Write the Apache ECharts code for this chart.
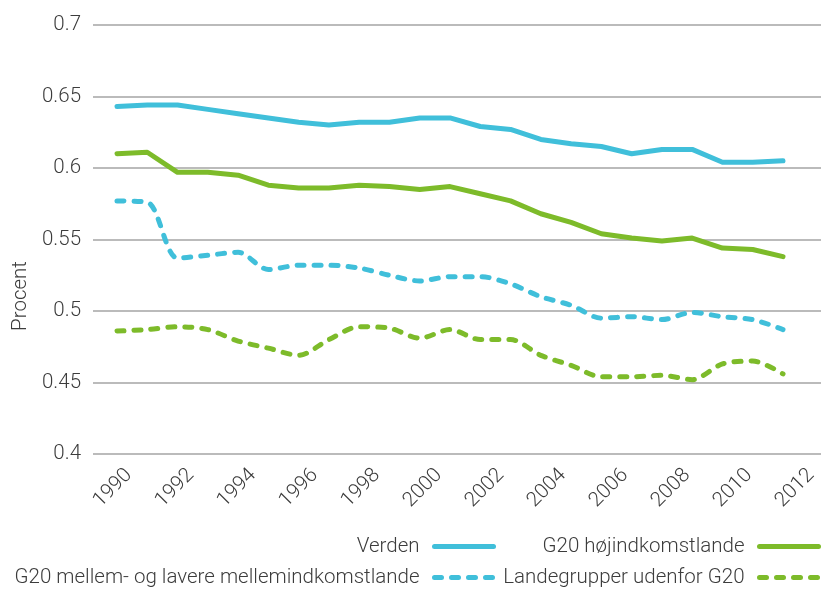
<!DOCTYPE html>
<html>
<head>
<meta charset="utf-8">
<script src="https://cdn.jsdelivr.net/npm/echarts@6/dist/echarts.min.js"></script>
<style>
  html, body { margin: 0; padding: 0; background: #fff; }
  #chart { width: 821px; height: 590px; }
</style>
</head>
<body>
<div id="chart"></div>
<script>
// data
const years = [1990, 1991, 1992, 1993, 1994, 1995, 1996, 1997, 1998, 1999, 2000, 2001,
  2002, 2003, 2004, 2005, 2006, 2007, 2008, 2009, 2010, 2011, 2012];
const tickYears = [1990, 1992, 1994, 1996, 1998, 2000, 2002, 2004, 2006, 2008, 2010, 2012];

const verden = [0.643, 0.644, 0.644, 0.641, 0.638, 0.635, 0.632, 0.630, 0.632, 0.632, 0.635, 0.635,
  0.629, 0.627, 0.620, 0.617, 0.615, 0.610, 0.613, 0.613, 0.604, 0.604, 0.605];
const hojindkomst = [0.610, 0.611, 0.597, 0.597, 0.595, 0.588, 0.586, 0.586, 0.588, 0.587, 0.585, 0.587,
  0.582, 0.577, 0.568, 0.562, 0.554, 0.551, 0.549, 0.551, 0.544, 0.543, 0.538];
const mellemindkomst = [0.577, 0.576, 0.537, 0.539, 0.541, 0.529, 0.532, 0.532, 0.530, 0.525, 0.521, 0.524,
  0.524, 0.519, 0.510, 0.504, 0.495, 0.496, 0.494, 0.499, 0.496, 0.494, 0.487];
const udenforG20 = [0.486, 0.487, 0.489, 0.487, 0.479, 0.474, 0.469, 0.480, 0.489, 0.488, 0.481, 0.487,
  0.480, 0.480, 0.469, 0.462, 0.454, 0.454, 0.455, 0.452, 0.463, 0.465, 0.456];

const BLUE = '#40BFDA';
const GREEN = '#7DBB2A';
const FONT = 'Roboto';
const TEXT = '#3c3c3c';
const FS = 20.5;

const pairs = (vals) => vals.map((v, i) => [years[i], v]);

const chart = echarts.init(document.getElementById('chart'), null, { renderer: 'canvas' });

const lineSeries = (name, vals, color, dashed) => ({
  name: name,
  type: 'line',
  xAxisIndex: 0,
  data: pairs(vals),
  symbol: 'none',
  smooth: dashed ? 0.3 : false,
  lineStyle: {
    color: color,
    width: 5,
    type: dashed ? [7, 10] : 'solid',
    cap: 'round',
    join: 'round'
  },
  itemStyle: { color: color },
  silent: true,
  animation: false
});

// legend: icon to the right of the text, two columns
const legendBase = {
  orient: 'vertical',
  align: 'right',
  top: 536,
  padding: 0,
  itemWidth: 59,
  itemHeight: 5,
  itemGap: 10,
  selectedMode: false,
  lineStyle: { width: 5 },
  itemStyle: { opacity: 0 },
  textStyle: {
    fontFamily: FONT,
    fontWeight: 300,
    fontSize: FS,
    color: TEXT,
    lineHeight: 21,
    padding: [0, 10, 0, 0]
  }
};

const option = {
  animation: false,
  grid: { left: 93, right: 0, top: 25, bottom: 136, containLabel: false },
  xAxis: [
    {
      // data axis, hidden
      type: 'value',
      min: 1989.207,
      max: 2013.255,
      show: false
    },
    {
      // label axis
      type: 'value',
      position: 'bottom',
      min: 1988.84,
      max: 2012.32,
      axisLine: { show: false },
      axisTick: { show: false },
      splitLine: { show: false },
      axisLabel: {
        customValues: tickYears,
        rotate: 45,
        margin: 18,
        formatter: (v) => String(v),
        fontFamily: FONT,
        fontWeight: 300,
        fontSize: FS,
        color: TEXT
      }
    }
  ],
  yAxis: {
    type: 'value',
    min: 0.4,
    max: 0.7,
    interval: 0.05,
    axisLine: { show: false },
    axisTick: { show: false },
    splitLine: { lineStyle: { color: '#a5a5a5', width: 1.5 } },
    axisLabel: {
      margin: 12,
      fontFamily: FONT,
      fontWeight: 300,
      fontSize: FS,
      color: TEXT
    }
  },
  legend: [
    Object.assign({}, legendBase, {
      right: 325,
      data: ['Verden', 'G20 mellem- og lavere mellemindkomstlande']
    }),
    Object.assign({}, legendBase, {
      right: 0,
      data: ['G20 højindkomstlande', 'Landegrupper udenfor G20']
    })
  ],
  graphic: [
    {
      type: 'text',
      x: 21,
      y: 296,
      rotation: Math.PI / 2,
      style: {
        text: 'Procent',
        fontFamily: FONT,
        fontWeight: 300,
        fontSize: FS,
        fill: TEXT,
        align: 'center',
        verticalAlign: 'middle'
      }
    }
  ],
  series: [
    lineSeries('Verden', verden, BLUE, false),
    lineSeries('G20 højindkomstlande', hojindkomst, GREEN, false),
    lineSeries('G20 mellem- og lavere mellemindkomstlande', mellemindkomst, BLUE, true),
    lineSeries('Landegrupper udenfor G20', udenforG20, GREEN, true)
  ]
};

chart.setOption(option);
</script>
</body>
</html>
